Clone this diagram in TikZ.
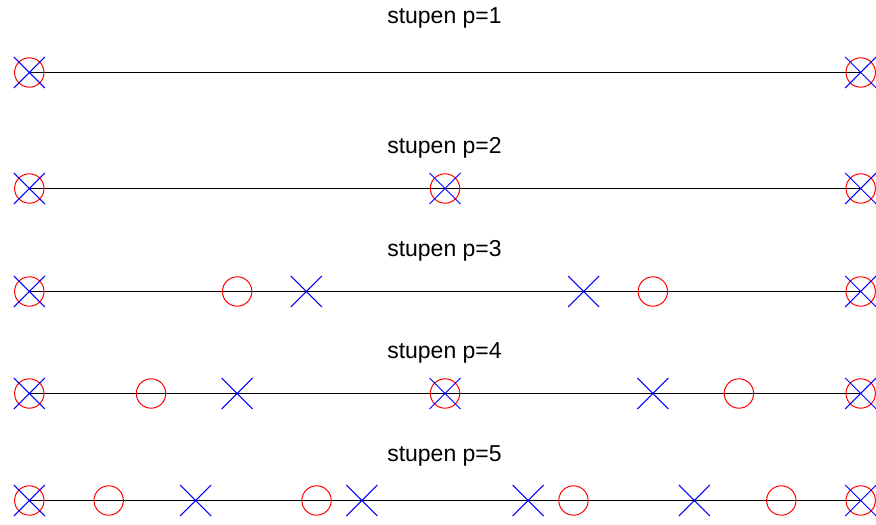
\documentclass[tikz,border=0pt]{standalone}
\usepackage{fontspec}
\setmainfont{Liberation Sans}
\usetikzlibrary{shapes.misc}
\begin{document}
\begin{tikzpicture}[x=1pt,y=1pt,
  rnode/.style={circle,draw=red,line width=1pt,minimum size=29.4pt,inner sep=0pt},
  xnode/.style={cross out,draw=blue,line width=1pt,minimum size=30pt,inner sep=0pt},
  axisline/.style={draw=black,line width=1.3pt},
  title/.style={anchor=base,font=\fontsize{23}{27}\selectfont,inner sep=0pt}]
\useasboundingbox (0,0) rectangle (876,525);
% p=1
\node[title] (t1) at (444.5,501) {stupen p=1};
\coordinate (a1) at (29.3,452.5); \coordinate (b1) at (860.7,452.5);
\draw[axisline] (a1) -- (b1);
\foreach \t [count=\i] in {0,1} {\node[rnode] (c1-\i) at ({29.3+831.4*\t},452.5) {};}
\foreach \t [count=\i] in {0,1} {\node[xnode] (x1-\i) at ({29.3+831.4*\t},452.5) {};}
% p=2
\node[title] (t2) at (444.5,371) {stupen p=2};
\coordinate (a2) at (29.3,336.5); \coordinate (b2) at (860.7,336.5);
\draw[axisline] (a2) -- (b2);
\foreach \t [count=\i] in {0,0.5,1} {\node[rnode] (c2-\i) at ({29.3+831.4*\t},336.5) {};}
\foreach \t [count=\i] in {0,0.5,1} {\node[xnode] (x2-\i) at ({29.3+831.4*\t},336.5) {};}
% p=3
\node[title] (t3) at (444.5,268) {stupen p=3};
\coordinate (a3) at (29.3,233.5); \coordinate (b3) at (860.7,233.5);
\draw[axisline] (a3) -- (b3);
\foreach \t [count=\i] in {0,0.25,0.75,1} {\node[rnode] (c3-\i) at ({29.3+831.4*\t},233.5) {};}
\foreach \t [count=\i] in {0,0.33333,0.66667,1} {\node[xnode] (x3-\i) at ({29.3+831.4*\t},233.5) {};}
% p=4
\node[title] (t4) at (444.5,166) {stupen p=4};
\coordinate (a4) at (29.3,131.5); \coordinate (b4) at (860.7,131.5);
\draw[axisline] (a4) -- (b4);
\foreach \t [count=\i] in {0,0.14645,0.5,0.85355,1} {\node[rnode] (c4-\i) at ({29.3+831.4*\t},131.5) {};}
\foreach \t [count=\i] in {0,0.25,0.5,0.75,1} {\node[xnode] (x4-\i) at ({29.3+831.4*\t},131.5) {};}
% p=5
\node[title] (t5) at (444.5,63) {stupen p=5};
\coordinate (a5) at (29.3,24.5); \coordinate (b5) at (860.7,24.5);
\draw[axisline] (a5) -- (b5);
\foreach \t [count=\i] in {0,0.09549,0.34549,0.65451,0.90451,1} {\node[rnode] (c5-\i) at ({29.3+831.4*\t},24.5) {};}
\foreach \t [count=\i] in {0,0.2,0.4,0.6,0.8,1} {\node[xnode] (x5-\i) at ({29.3+831.4*\t},24.5) {};}
\end{tikzpicture}
\end{document}
